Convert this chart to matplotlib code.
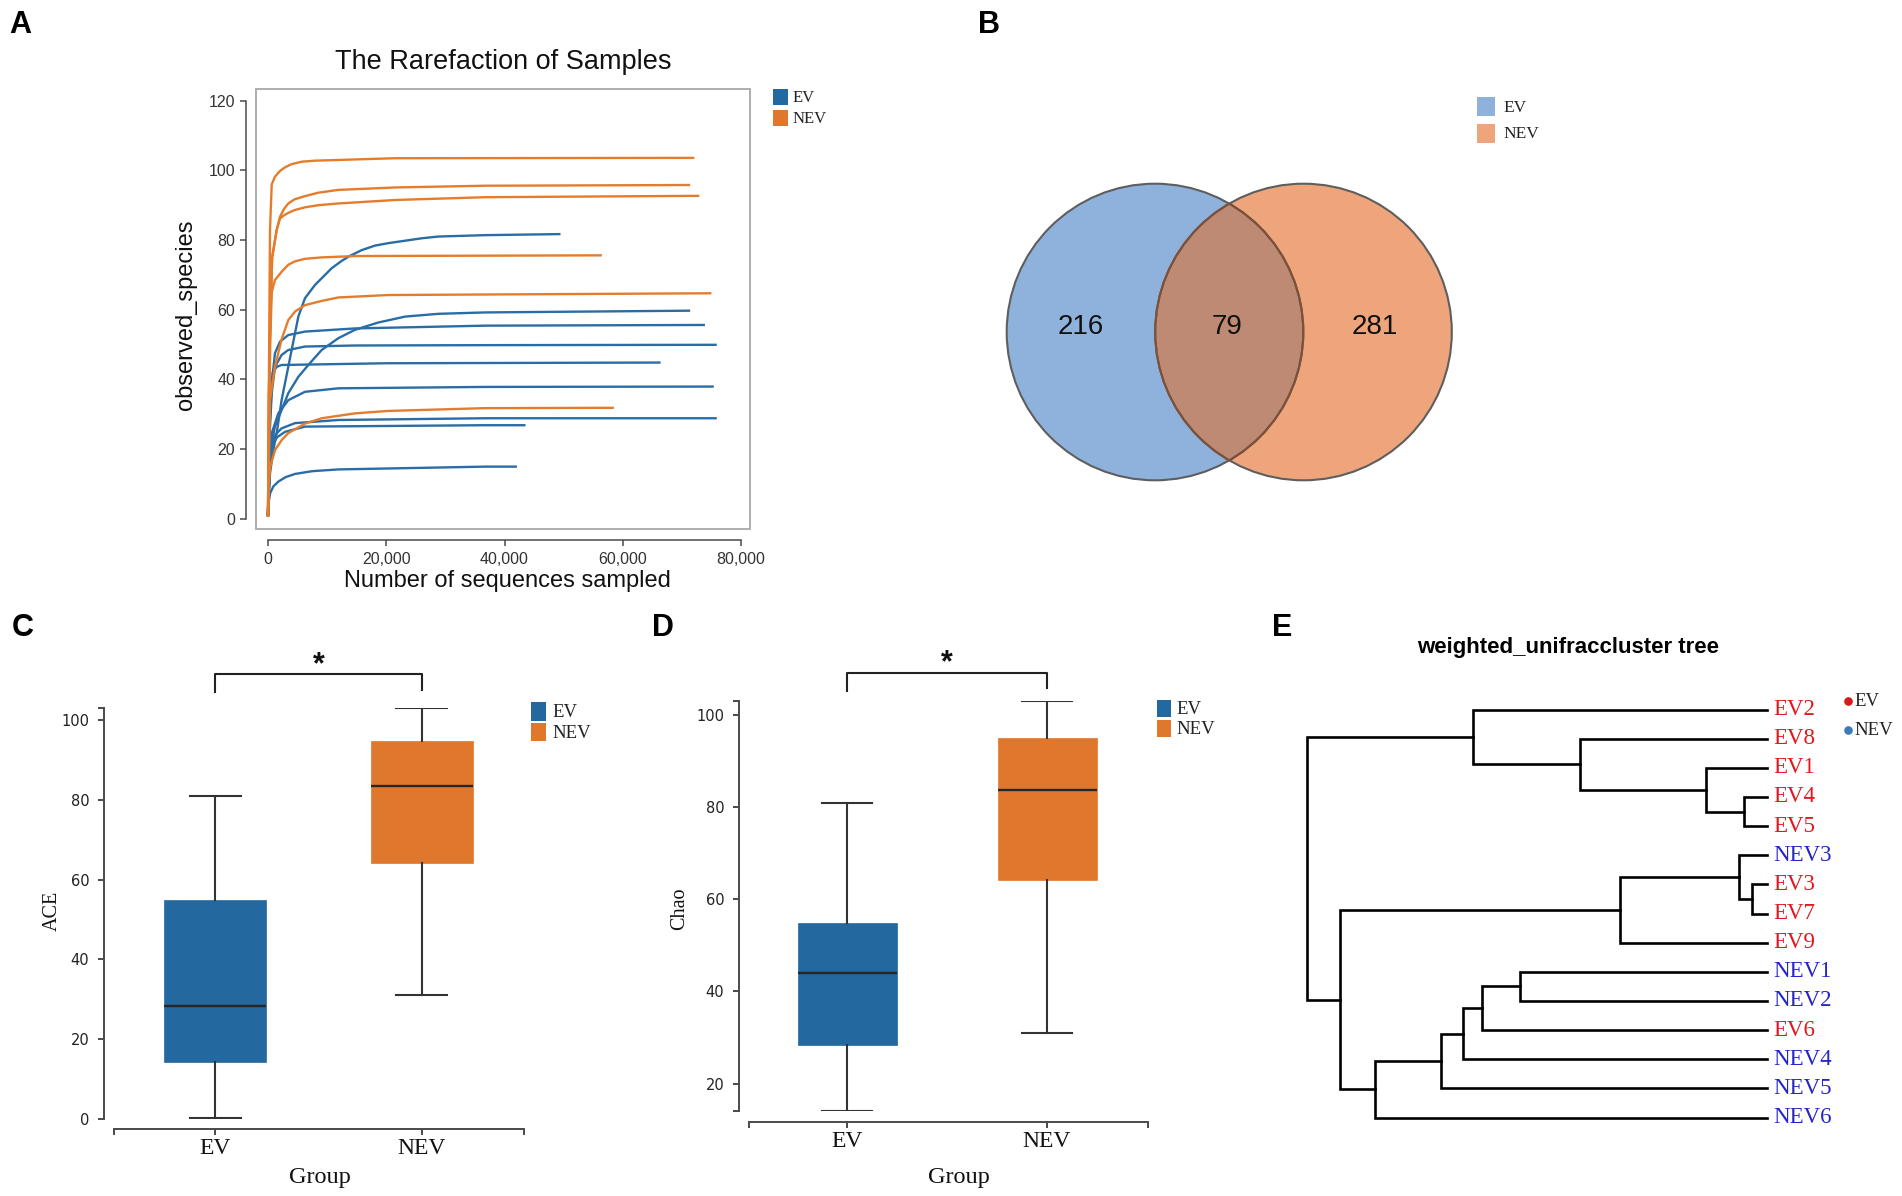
import matplotlib
matplotlib.use('Agg')
import matplotlib.pyplot as plt
from matplotlib.patches import Rectangle, Circle

# ---------------- data ----------------
rare_x_ticks = [0, 20000, 40000, 60000, 80000]
rare_x_ticklabels = ['0', '20,000', '40,000', '60,000', '80,000']
rare_y_ticks = [0, 20, 40, 60, 80, 100, 120]

ev_rare_x = [
    [0, 340, 900, 1470, 2300, 3430, 5130, 6260, 7950, 9070, 10770, 12460,
     13580, 15850, 18100, 20340, 23170, 26000, 28800, 36700, 49270],
    [0, 340, 1180, 2310, 3430, 5130, 6820, 9070, 11900, 14700, 18650, 23170,
     28800, 36700, 71200],
    [0, 300, 630, 1180, 2030, 3430, 6260, 14700, 36700, 73700],
    [0, 300, 630, 1180, 2310, 3430, 6260, 14700, 36700, 75700],
    [0, 300, 800, 1500, 2300, 20000, 66200],
    [0, 200, 630, 1740, 3430, 6260, 11900, 36700, 75200],
    [0, 200, 630, 1300, 2310, 4570, 11900, 36700, 75700],
    [0, 200, 630, 1500, 2880, 6260, 36700, 43350],
    [0, 60, 340, 900, 1740, 3000, 4570, 7500, 11900, 36700, 41900],
]
ev_rare_y = [
    [1, 13, 19.7, 24.5, 34, 43.6, 58, 63.3, 67.1, 69.0, 71.9, 74.0,
     75.2, 77.1, 78.4, 79.1, 79.8, 80.5, 81.0, 81.4, 81.7],
    [1, 19.7, 26.4, 31.2, 36, 40.7, 44.1, 48.4, 51.8, 54.2, 56.3, 58,
     58.8, 59.2, 59.7],
    [1, 28, 38.8, 47.5, 50.8, 52.7, 53.7, 54.6, 55.4, 55.6],
    [1, 25, 36, 43.6, 47, 48.4, 49.4, 49.7, 49.8, 49.9],
    [1, 30, 42, 43.6, 44.1, 44.6, 44.8],
    [1, 12, 24.5, 30.2, 34, 36.4, 37.4, 37.8, 37.9],
    [1, 12, 21.6, 24.2, 25.9, 27.4, 28.3, 28.8, 28.8],
    [1, 12, 20.6, 23.3, 24.9, 26.4, 26.8, 26.8],
    [1, 4, 7.2, 9.2, 10.6, 11.9, 12.8, 13.6, 14.1, 14.9, 14.9],
]
nev_rare_x = [
    [0, 150, 340, 630, 1180, 2000, 2880, 4000, 5700, 8000, 11900, 21480, 71900],
    [0, 150, 300, 700, 1470, 2030, 2700, 3430, 4500, 6260, 8500, 11900,
     21480, 36700, 71200],
    [0, 150, 300, 700, 1470, 2030, 2700, 3430, 4500, 6260, 8500, 11900,
     21480, 36700, 72750],
    [0, 200, 400, 630, 1180, 2310, 3430, 4600, 6260, 9000, 14700, 56260],
    [0, 340, 1180, 2310, 3430, 4600, 6260, 9070, 11900, 20340, 74800],
    [0, 60, 400, 1200, 2300, 3400, 6300, 9100, 14700, 20300, 36700, 58300],
]
nev_rare_y = [
    [1, 40, 83, 96, 98.2, 99.8, 100.9, 101.8, 102.5, 102.8, 103.0, 103.5, 103.6],
    [1, 35, 50, 75, 82.9, 86.7, 88.9, 90.5, 91.7, 92.6, 93.6, 94.4,
     95.1, 95.6, 95.8],
    [1, 35, 50, 75, 82.9, 86.2, 87.1, 87.8, 88.6, 89.4, 90.0, 90.5,
     91.5, 92.3, 92.7],
    [1, 30, 52, 65, 68.5, 70.9, 72.9, 73.9, 74.6, 75.0, 75.4, 75.6],
    [1, 34, 43.6, 51.5, 57, 59.5, 61.3, 62.5, 63.5, 64.2, 64.7],
    [1, 9, 15, 19.7, 22.5, 24.5, 27.3, 28.8, 30.2, 30.9, 31.7, 31.8],
]

venn_sets = ['EV', 'NEV']
venn_counts = [216, 79, 281]   # EV only, shared, NEV only

groups = ['EV', 'NEV']
ace_median = [28.2, 83.4]
ace_q1 = [14.3, 64.2]
ace_q3 = [54.8, 94.8]
ace_low = [0.2, 31.1]
ace_high = [81.0, 103.0]
ace_ticks = [0, 20, 40, 60, 80, 100]

chao_median = [44.0, 83.7]
chao_q1 = [28.3, 64.1]
chao_q3 = [54.8, 95.0]
chao_low = [14.1, 30.9]
chao_high = [81.0, 103.1]
chao_ticks = [20, 40, 60, 80, 100]

tree_leaves = ['EV2', 'EV8', 'EV1', 'EV4', 'EV5', 'NEV3', 'EV3', 'EV7', 'EV9',
               'NEV1', 'NEV2', 'EV6', 'NEV4', 'NEV5', 'NEV6']
# (child a, child b, merge height); internal nodes named n0, n1, ...
tree_merges = [
    ('EV4', 'EV5', 0.050),
    ('EV1', 'n0', 0.133),
    ('EV8', 'n1', 0.407),
    ('EV2', 'n2', 0.640),
    ('EV3', 'EV7', 0.033),
    ('NEV3', 'n4', 0.061),
    ('n5', 'EV9', 0.320),
    ('NEV1', 'NEV2', 0.537),
    ('n7', 'EV6', 0.620),
    ('n8', 'NEV4', 0.661),
    ('n9', 'NEV5', 0.709),
    ('n10', 'NEV6', 0.852),
    ('n6', 'n11', 0.928),
    ('n3', 'n12', 1.000),
]

# ---------------- style ----------------
W, H, DPI = 1902, 1196, 100
PT = 72.0 / DPI
SANS = 'Liberation Sans'
SERIF = 'Liberation Serif'
plt.rcParams['font.family'] = [SANS, 'DejaVu Sans']
BLUE = '#23699f'
ORANGE = '#df782d'
AX_COL = '#4a4a4a'

fig = plt.figure(figsize=(W / DPI, H / DPI), dpi=DPI)


def axes_px(l, t, r, b):
    return fig.add_axes([l / W, 1 - b / H, (r - l) / W, (b - t) / H])


# ======================= Panel A: rarefaction =======================
axA = axes_px(256, 88.5, 750, 529)
axA.set_xlim(-2030, 81522)
axA.set_ylim(-3.016, 123.53)
for xs, ys in zip(ev_rare_x, ev_rare_y):
    axA.plot(xs, ys, color='#2a6da6', lw=1.7, solid_joinstyle='round')
for xs, ys in zip(nev_rare_x, nev_rare_y):
    axA.plot(xs, ys, color='#e57c2b', lw=1.7, solid_joinstyle='round')
axA.add_patch(Rectangle((0, 0), 1, 1, transform=axA.transAxes, fill=False,
                        ec='#a8a8a8', lw=1.3, clip_on=False, zorder=0))
for s in ('top', 'right'):
    axA.spines[s].set_visible(False)
axA.spines['left'].set_position(('outward', 10 * PT))
axA.spines['left'].set_bounds(0, 120)
axA.spines['bottom'].set_position(('outward', 11 * PT))
axA.spines['bottom'].set_bounds(0, 80000)
for s in ('left', 'bottom'):
    axA.spines[s].set_color(AX_COL)
    axA.spines[s].set_linewidth(1.1)
axA.set_xticks(rare_x_ticks, rare_x_ticklabels)
axA.set_yticks(rare_y_ticks)
axA.tick_params(axis='both', direction='out', length=6 * PT, width=1.1,
                color=AX_COL, labelsize=11.5, labelcolor='#333333')
axA.tick_params(axis='y', pad=5 * PT)
axA.tick_params(axis='x', pad=6 * PT)

# ======================= Panel B: Venn =======================
axB = axes_px(990, 160, 1480, 500)
axB.set_xlim(990, 1480)
axB.set_ylim(500, 160)
axB.axis('off')
R = 148.3
cL = (1155, 332)
cR = (1303.5, 332)
left_c = Circle(cL, R, fc='#8fb2dc', ec='none')
right_c = Circle(cR, R, fc='#eea57b', ec='none')
axB.add_patch(left_c)
axB.add_patch(right_c)
ov = Circle(cR, R, fc='#bf8a73', ec='none')
axB.add_patch(ov)
ov.set_clip_path(left_c)
axB.add_patch(Circle(cL, R, fill=False, ec='#5e5e5e', lw=1.5))
axB.add_patch(Circle(cR, R, fill=False, ec='#5e5e5e', lw=1.5))
inL = Circle(cL, R, fill=False, ec='#7e5039', lw=1.5)
axB.add_patch(inL)
inL.set_clip_path(right_c)
inR = Circle(cR, R, fill=False, ec='#7e5039', lw=1.5)
axB.add_patch(inR)
inR.set_clip_path(left_c)
for xpos, val in zip([1081, 1227, 1375], venn_counts):
    axB.text(xpos, 334.5, str(val), ha='center', va='baseline', fontsize=20,
             family=SANS, color='#111111')


# ======================= Panels C / D: boxes =======================
def box_panel(l, t, r, b, xlim, ylim, med, q1, q3, lo, hi, yticks,
              box_w, cap_w, outward, minor_y, br, star_base):
    ax = axes_px(l, t, r, b)
    stats = [dict(med=med[i], q1=q1[i], q3=q3[i], whislo=lo[i],
                  whishi=hi[i], label=groups[i]) for i in range(2)]
    bp = ax.bxp(stats, positions=[0, 1], widths=box_w, capwidths=cap_w,
                patch_artist=True, showfliers=False,
                boxprops=dict(lw=0.5),
                medianprops=dict(color='#262626', lw=1.7),
                whiskerprops=dict(color='#333333', lw=1.5),
                capprops=dict(color='#333333', lw=1.5))
    for patch, c in zip(bp['boxes'], [BLUE, ORANGE]):
        patch.set_facecolor(c)
        patch.set_edgecolor(c)
    ax.set_xlim(*xlim)
    ax.set_ylim(*ylim)
    for s in ('top', 'right'):
        ax.spines[s].set_visible(False)
    ax.spines['left'].set_position(('outward', outward[0] * PT))
    ax.spines['bottom'].set_position(('outward', outward[1] * PT))
    for s in ('left', 'bottom'):
        ax.spines[s].set_color(AX_COL)
        ax.spines[s].set_linewidth(1.4)
    ax.set_yticks(yticks)
    ax.set_yticks(minor_y, minor=True)
    ax.set_xticks([0, 1], groups)
    ax.set_xticks(list(xlim), minor=True)
    ax.tick_params(axis='y', which='both', direction='out', length=6.5 * PT,
                   width=1.4, color=AX_COL, labelsize=10.5, pad=6,
                   labelcolor='#222222')
    ax.tick_params(axis='x', which='both', direction='out', length=6 * PT,
                   width=1.4, color=AX_COL, labelsize=17, pad=2,
                   labelcolor='#111111')
    for lab in ax.get_yticklabels():
        lab.set_family('DejaVu Sans')
    for lab in ax.get_xticklabels():
        lab.set_family(SERIF)
    ax.plot([0, 0, 1, 1], br, color='#222222', lw=1.5, clip_on=False)
    ax.text(0.5, star_base, '*', ha='center', va='baseline', fontsize=22,
            fontweight='bold', family=SANS, color='#111111', clip_on=False)
    return ax


axC = box_panel(114, 708, 524, 1119, (-0.49, 1.496), (0, 103),
                ace_median, ace_q1, ace_q3, ace_low, ace_high, ace_ticks,
                0.494, 0.247, (10, 10), [103],
                [107.0, 111.5, 111.5, 107.5], 111.6)
axD = box_panel(749, 701, 1148, 1111, (-0.49, 1.505), (14.05, 103.05),
                chao_median, chao_q1, chao_q3, chao_low, chao_high, chao_ticks,
                0.495, 0.25, (10, 11), [14.05, 103.05],
                [105.2, 109.2, 109.2, 105.9], 109.4)

# ======================= Panel E: tree =======================
axE = axes_px(1307, 709.5, 1767, 1117.6)
axE.set_xlim(0, 1)
axE.set_ylim(len(tree_leaves) - 1, 0)
axE.axis('off')
pos = {name: (1.0, float(i)) for i, name in enumerate(tree_leaves)}
for k, (a, b, h) in enumerate(tree_merges):
    x = 1.0 - h
    ya, yb = pos[a][1], pos[b][1]
    axE.plot([pos[a][0], x, x, pos[b][0]], [ya, ya, yb, yb], color='black',
             lw=1.9, solid_joinstyle='miter', clip_on=False)
    pos['n%d' % k] = (x, (ya + yb) / 2.0)
for i, name in enumerate(tree_leaves):
    col = '#e3161d' if name.startswith('EV') else '#2424c8'
    axE.text(1 + 6 / 460, i, name, color=col, ha='left', va='center',
             fontsize=16.5, family=SERIF, clip_on=False)

# ======================= overlay: titles, legends, letters =======================
ovl = fig.add_axes([0, 0, 1, 1])
ovl.set_xlim(0, W)
ovl.set_ylim(H, 0)
ovl.axis('off')
ovl.patch.set_alpha(0)

for letter, x, y in [('A', 9, 33), ('B', 978, 33), ('C', 12, 636),
                     ('D', 652, 636), ('E', 1272, 636)]:
    ovl.text(x, y, letter, ha='left', va='baseline', fontsize=22,
             fontweight='bold', family=SANS)

ovl.text(503, 69, 'The Rarefaction of Samples', ha='center', va='baseline',
         fontsize=19.5, family=SANS, color='#111111')
ovl.text(507, 587, 'Number of sequences sampled', ha='center', va='baseline',
         fontsize=17, family=SANS, color='#111111')
ovl.text(186, 315, 'observed_species', ha='center', va='center', rotation=90,
         fontsize=17, family=SANS, color='#111111')


def legend_sq(x0, x1, rows, colors, tx, size):
    for (t0, t1), c, lab in zip(rows, colors, groups):
        ovl.add_patch(Rectangle((x0, t0), x1 - x0, t1 - t0, fc=c, ec='none'))
        ovl.text(tx, (t0 + t1) / 2 + 1, lab, ha='left', va='center',
                 fontsize=size, family=SERIF, color='#222222')


legend_sq(773, 788, [(89, 105), (110, 126)], [BLUE, ORANGE], 793, 12)
legend_sq(1477, 1495, [(97, 116), (124, 143)], ['#8fb2dc', '#eea57b'], 1503, 12.5)
legend_sq(531, 546, [(702, 721), (723, 741)], [BLUE, ORANGE], 552, 13.5)
legend_sq(1157, 1171, [(700, 717), (720, 737)], [BLUE, ORANGE], 1176, 13.5)

ovl.text(52, 911, 'ACE', ha='center', va='center', rotation=90, fontsize=14.5,
         family=SERIF, color='#111111')
ovl.text(680, 909, 'Chao', ha='center', va='center', rotation=90,
         fontsize=14.5, family=SERIF, color='#111111')
ovl.text(320, 1183, 'Group', ha='center', va='baseline', fontsize=17.5,
         family=SERIF, color='#111111')
ovl.text(959, 1183, 'Group', ha='center', va='baseline', fontsize=17.5,
         family=SERIF, color='#111111')

ovl.text(1568, 653, 'weighted_unifraccluster tree', ha='center',
         va='baseline', fontsize=16, fontweight='bold', family=SANS)
for y, c, lab in [(701, '#d7191c', 'EV'), (729.5, '#3b7cb8', 'NEV')]:
    ovl.plot(1847.5, y, 'o', ms=5.2, color=c)
    ovl.text(1854, y + 1, lab, ha='left', va='center', fontsize=13.5,
             family=SERIF, color='#222222')

fig.savefig('out.png', dpi=DPI)
